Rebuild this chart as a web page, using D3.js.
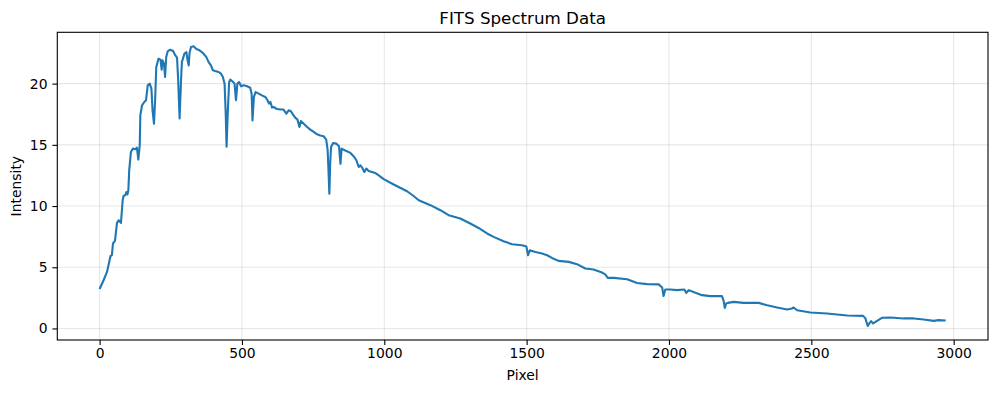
<!DOCTYPE html>
<html>
<head>
<meta charset="utf-8">
<script src="https://cdn.jsdelivr.net/npm/d3@7"></script>
<style>
  body { margin: 0; background: #fff; }
  text { font-family: "DejaVu Sans", sans-serif; fill: #000; }
</style>
</head>
<body>
<div id="chart-Div"></div>
<script>

// spectrum samples
let pixels = [0, 14, 26, 35, 38, 43, 47, 54, 61, 67, 75, 81, 84, 91, 94, 98, 101, 104, 110, 117,
    125, 131, 136, 141, 143, 149, 157, 163, 169, 176, 182, 186, 191, 195, 199, 207, 214, 218, 221, 226,
    230, 234, 239, 248, 258, 266, 272, 276, 281, 286, 289, 298, 305, 309, 313, 316, 321, 330, 340, 351,
    363, 375, 383, 391, 398, 406, 418, 426, 433, 439, 443, 446, 450, 455, 459, 469, 474, 479, 484, 490,
    497, 506, 518, 529, 534, 537, 542, 548, 559, 570, 582, 590, 595, 600, 606, 611, 623, 635, 646, 656,
    664, 672, 679, 687, 695, 702, 707, 717, 729, 740, 752, 764, 775, 787, 796, 801, 804, 807, 810, 813,
    820, 831, 841, 846, 850, 861, 881, 892, 902, 910, 916, 922, 930, 937, 945, 957, 968, 984, 998, 1033,
    1080, 1103, 1121, 1162, 1197, 1226, 1267, 1302, 1331, 1361, 1384, 1419, 1449, 1484, 1499, 1505, 1511, 1531, 1554, 1572,
    1589, 1612, 1648, 1677, 1706, 1735, 1765, 1776, 1785, 1806, 1853, 1888, 1923, 1964, 1976, 1981, 1987, 2005, 2028, 2054,
    2061, 2069, 2093, 2116, 2145, 2186, 2192, 2196, 2201, 2207, 2227, 2262, 2315, 2345, 2380, 2415, 2432, 2438, 2450, 2497,
    2555, 2626, 2682, 2690, 2698, 2705, 2710, 2717, 2731, 2748, 2778, 2824, 2860, 2895, 2930, 2947, 2972];

let intensity = [3.22, 3.94, 4.62, 5.57, 5.9, 5.98, 6.94, 7.15, 8.62, 8.84, 8.62, 10.47, 10.82, 10.9, 11.15, 10.96, 11.29, 12.92, 14.42, 14.69,
    14.64, 14.77, 13.8, 14.96, 17.41, 18.23, 18.5, 18.64, 19.86, 20.0, 19.59, 17.82, 16.73, 18.64, 21.36, 22.04, 21.96, 21.14, 21.9, 21.63,
    20.54, 22.17, 22.63, 22.77, 22.66, 22.3, 22.12, 20.27, 17.15, 20.27, 21.76, 22.45, 22.58, 21.9, 21.49, 22.5, 23.0, 23.05, 22.83, 22.72,
    22.5, 22.17, 21.76, 21.49, 21.09, 21.03, 20.95, 20.82, 20.54, 20.0, 17.55, 14.85, 17.55, 20.13, 20.33, 20.13, 20.0, 18.64, 20.0, 20.13,
    19.78, 19.86, 19.78, 19.67, 19.18, 17.0, 18.91, 19.31, 19.18, 19.04, 18.91, 18.64, 18.37, 18.5, 18.04, 18.09, 17.93, 17.9, 17.88, 17.55,
    17.82, 17.74, 17.49, 17.22, 17.06, 16.46, 16.95, 16.73, 16.46, 16.24, 16.05, 15.86, 15.76, 15.7, 15.43, 14.56, 12.92, 11.0, 13.5, 14.82,
    15.15, 15.1, 14.88, 13.45, 14.69, 14.56, 14.34, 14.07, 13.74, 13.19, 13.33, 13.14, 12.78, 13.06, 12.87, 12.78, 12.7, 12.45, 12.2, 11.76,
    11.21, 10.82, 10.47, 10.07, 9.66, 9.25, 8.98, 8.57, 8.21, 7.76, 7.48, 7.13, 6.88, 6.8, 6.69, 5.98, 6.39, 6.25, 6.12, 5.98,
    5.76, 5.52, 5.44, 5.25, 4.9, 4.82, 4.57, 4.41, 4.13, 4.13, 4.02, 3.72, 3.62, 3.6, 3.35, 2.65, 3.18, 3.18, 3.13, 3.18,
    2.91, 3.13, 2.91, 2.72, 2.64, 2.64, 2.25, 1.68, 2.04, 2.09, 2.17, 2.09, 2.09, 1.9, 1.71, 1.55, 1.63, 1.71, 1.49, 1.31,
    1.22, 1.06, 1.03, 0.82, 0.2, 0.46, 0.6, 0.41, 0.62, 0.87, 0.9, 0.82, 0.82, 0.73, 0.62, 0.68, 0.65];

let xTicks = [0, 500, 1000, 1500, 2000, 2500, 3000];
let yTicks = [0, 5, 10, 15, 20];

let width = 996, height = 393;
let margin = {left: 57.3, right: 8, top: 32.3, bottom: 53};

let chartSVG = d3.select('#chart-Div')
    .append('svg')
    .attr('id', 'chartSVG')
    .attr('width', width)
    .attr('height', height);

let data = pixels.map((p, i) => ({x: p, y: intensity[i]}));

// matplotlib style 5% padding around the data
function padded(ext) {
    let span = ext[1] - ext[0];
    return [ext[0] - 0.05 * span, ext[1] + 0.05 * span];
}

let xScale = d3.scaleLinear()
    .domain(padded(d3.extent(pixels)))
    .range([margin.left, width - margin.right]);
let yScale = d3.scaleLinear()
    .domain(padded(d3.extent(intensity)))
    .range([height - margin.bottom, margin.top]);

let plotW = width - margin.right - margin.left;
let plotH = height - margin.bottom - margin.top;

// grid
let grid = chartSVG.append('g');
grid.selectAll('.vgrid')
    .data(xTicks)
    .join('line')
    .attr('x1', d => xScale(d)).attr('x2', d => xScale(d))
    .attr('y1', margin.top).attr('y2', height - margin.bottom)
    .attr('stroke', '#b0b0b0')
    .attr('stroke-opacity', 0.3)
    .attr('stroke-width', 1.1);
grid.selectAll('.hgrid')
    .data(yTicks)
    .join('line')
    .attr('x1', margin.left).attr('x2', width - margin.right)
    .attr('y1', d => yScale(d)).attr('y2', d => yScale(d))
    .attr('stroke', '#b0b0b0')
    .attr('stroke-opacity', 0.3)
    .attr('stroke-width', 1.1);

// spectrum line
let lineGen = d3.line()
    .x(d => xScale(d.x))
    .y(d => yScale(d.y));

chartSVG.append('path')
    .attr('d', lineGen(data))
    .attr('fill', 'none')
    .attr('stroke', '#1f77b4')
    .attr('stroke-width', 2.1)
    .attr('stroke-linejoin', 'round');

// axes
let xAxis = d3.axisBottom(xScale)
    .tickValues(xTicks)
    .tickFormat(d3.format('d'))
    .tickSizeInner(4.9)
    .tickSizeOuter(0)
    .tickPadding(3.5);
let yAxis = d3.axisLeft(yScale)
    .tickValues(yTicks)
    .tickFormat(d3.format('d'))
    .tickSizeInner(4.9)
    .tickSizeOuter(0)
    .tickPadding(4.9);

let gx = chartSVG.append('g')
    .attr('transform', `translate(0,${height - margin.bottom})`)
    .call(xAxis);
let gy = chartSVG.append('g')
    .attr('transform', `translate(${margin.left},0)`)
    .call(yAxis);

[gx, gy].forEach(g => {
    g.select('.domain').remove();
    g.selectAll('line').attr('stroke', '#000').attr('stroke-width', 1.1);
    g.selectAll('text')
        .attr('fill', '#000')
        .style('font-family', '"DejaVu Sans", sans-serif')
        .style('font-size', '13.9px');
});

// frame
chartSVG.append('rect')
    .attr('x', margin.left)
    .attr('y', margin.top)
    .attr('width', plotW)
    .attr('height', plotH)
    .attr('fill', 'none')
    .attr('stroke', '#000')
    .attr('stroke-width', 1.1);

// labels
chartSVG.append('text')
    .attr('x', margin.left + plotW / 2)
    .attr('y', 24)
    .attr('text-anchor', 'middle')
    .style('font-size', '16.7px')
    .text('FITS Spectrum Data');

chartSVG.append('text')
    .attr('x', margin.left + plotW / 2)
    .attr('y', 380)
    .attr('text-anchor', 'middle')
    .style('font-size', '13.9px')
    .text('Pixel');

chartSVG.append('text')
    .attr('transform', `translate(21,${margin.top + plotH / 2}) rotate(-90)`)
    .attr('text-anchor', 'middle')
    .style('font-size', '13.9px')
    .text('Intensity');

</script>
</body>
</html>
